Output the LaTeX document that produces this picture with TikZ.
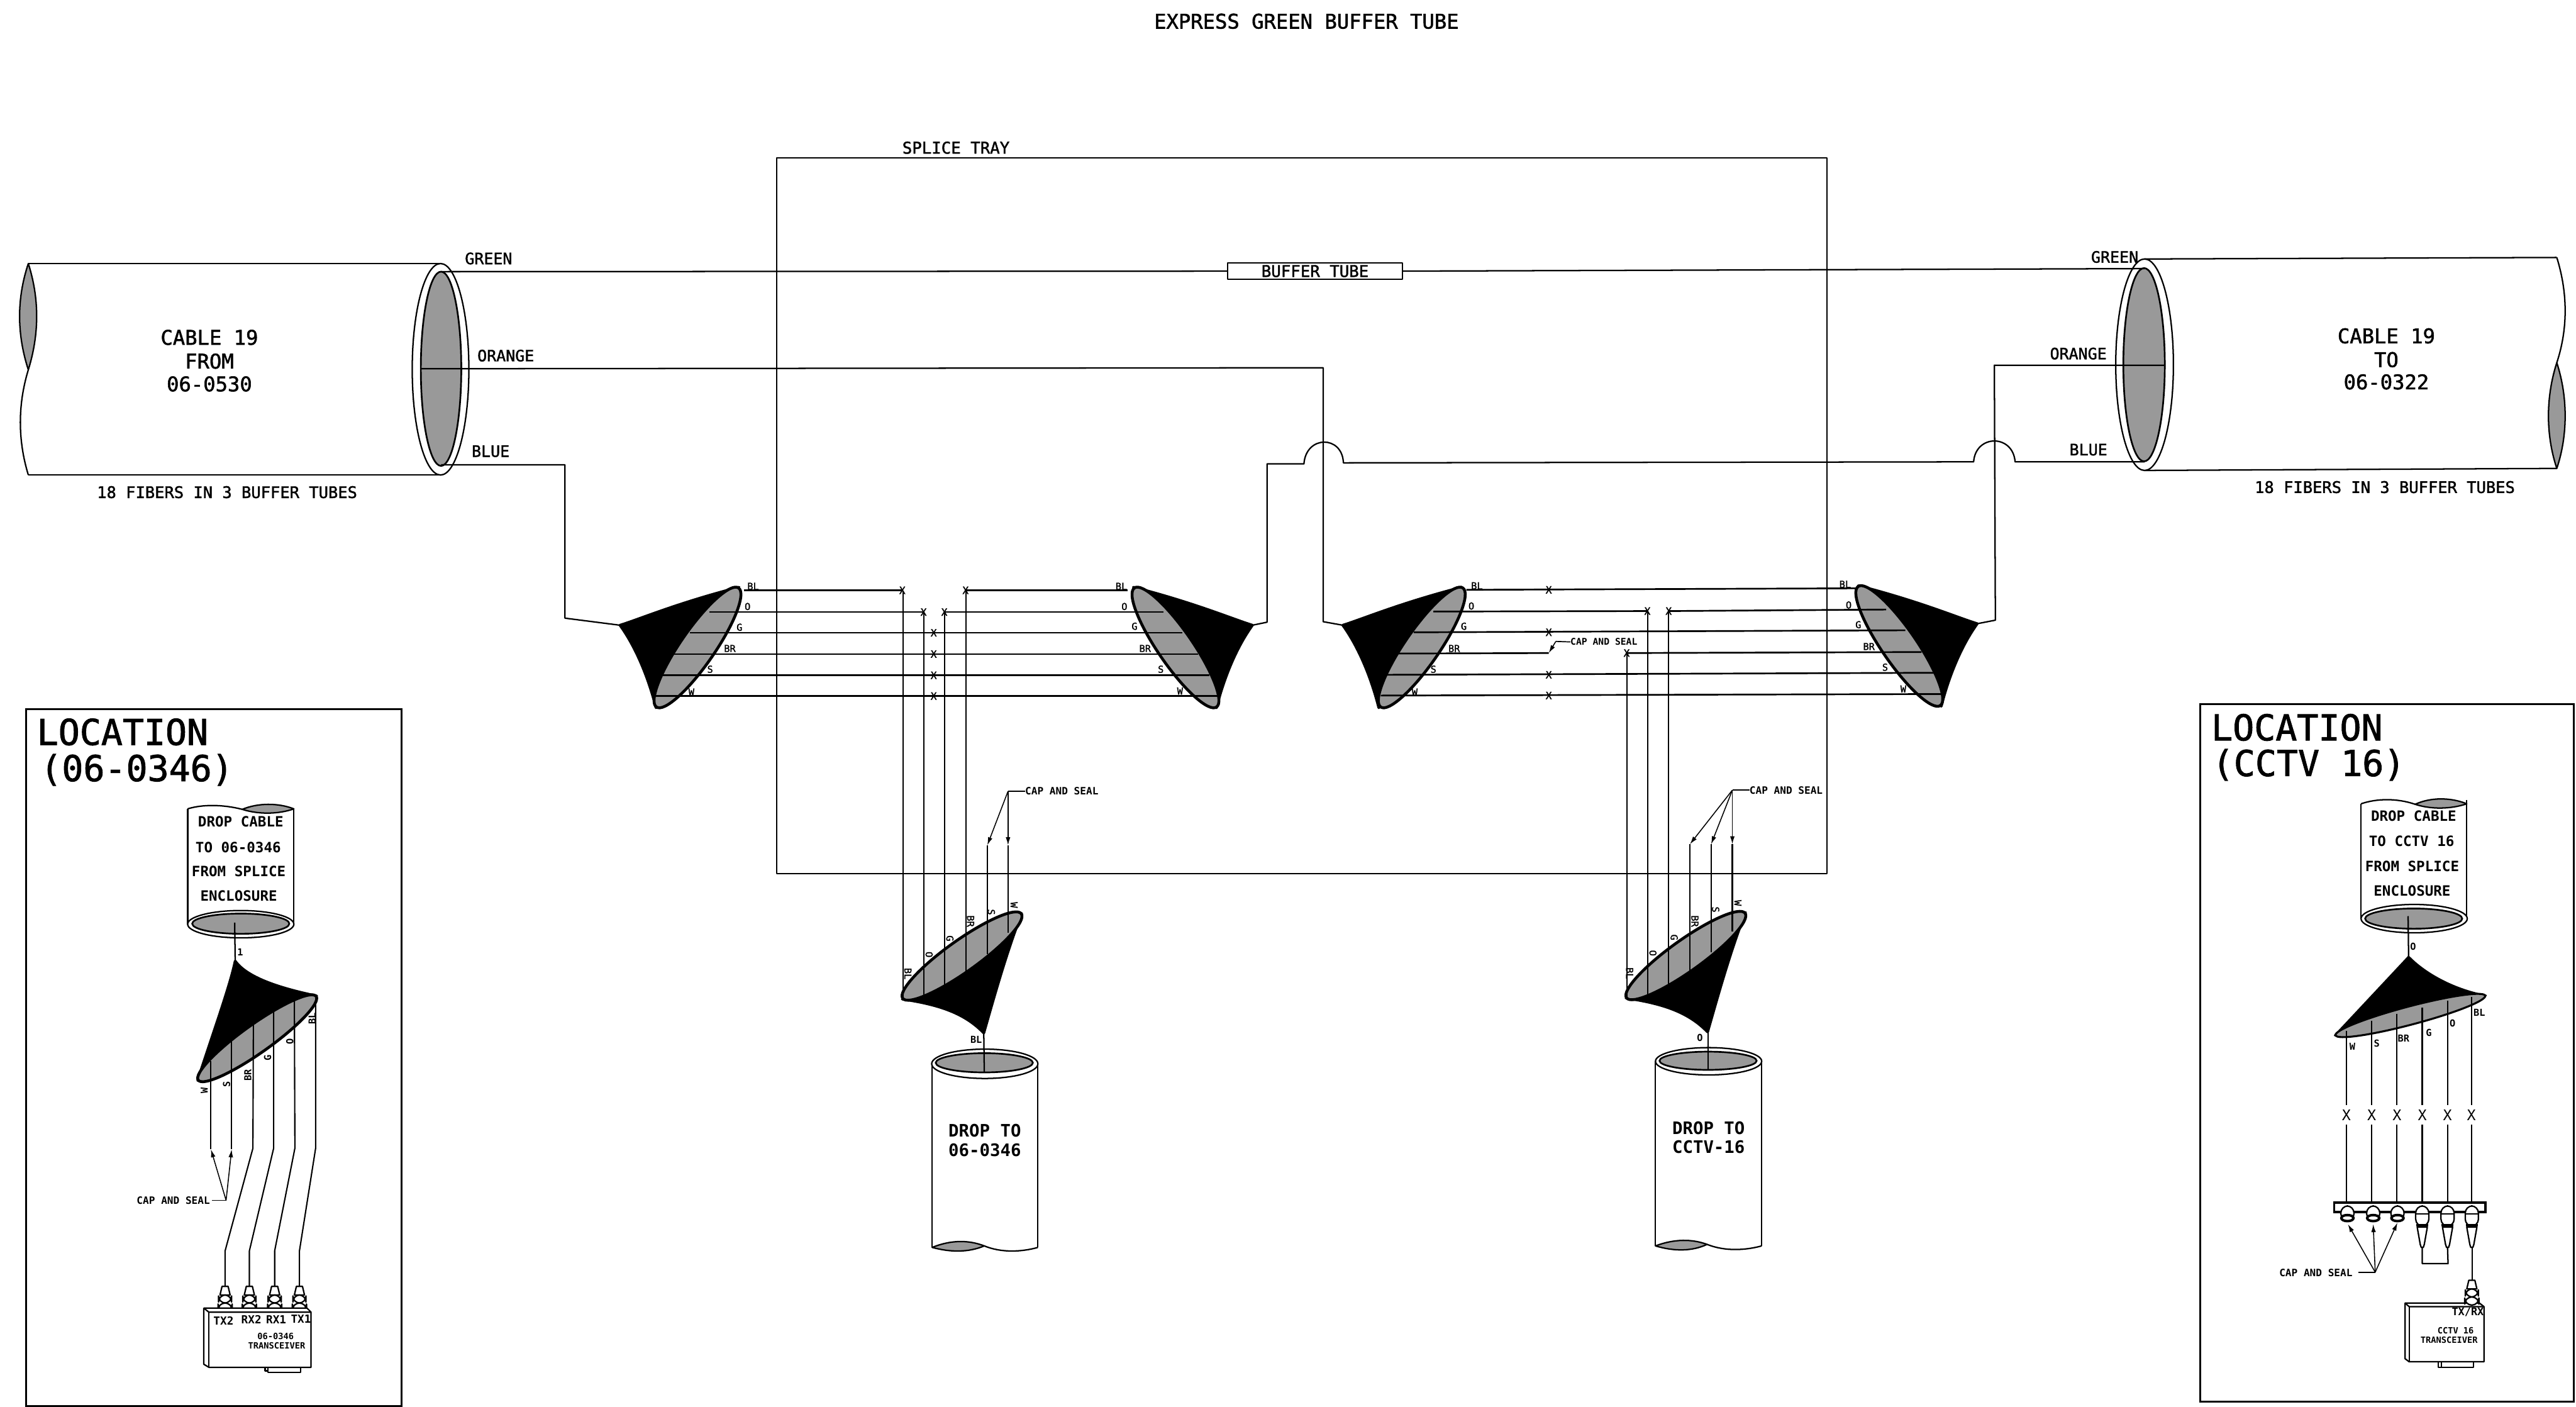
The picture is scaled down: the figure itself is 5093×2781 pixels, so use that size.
\documentclass[tikz,border=0pt]{standalone}
\usepackage{fontspec}
\usetikzlibrary{arrows.meta}
\newfontfamily\mono[FakeBold=1.6]{DejaVu Sans Mono}
\newfontfamily\monob{DejaVu Sans Mono}
\definecolor{stip}{gray}{0.6}
\tikzset{
  x=0.01cm,y=-0.01cm,
  txt/.style={inner sep=0pt,outer sep=0pt,font=\mono\fontsize{#1}{#1}\selectfont},
  btxt/.style={inner sep=0pt,outer sep=0pt,font=\monob\bfseries\fontsize{#1}{#1}\selectfont},
  thinx/.style={inner sep=0pt,outer sep=0pt,font=\monob\fontsize{#1}{#1}\selectfont},
  ln/.style={line width=0.8pt,draw=black,line join=round},
  fine/.style={line width=0.6pt,draw=black,line join=round},
  fiber/.style={line width=0.95pt,draw=black},
  vfiber/.style={line width=0.75pt,draw=black},
  cablefill/.style={draw=black,line width=0.8pt,fill=white},
  corefill/.style={draw=black,line width=0.95pt,fill=stip},
  rim/.style={draw=black,line width=1.6pt,fill=stip,line join=round},
  tipfill/.style={fill=black,draw=black,line width=1.6pt,line join=round},
  callout/.style={line width=0.55pt,-{Latex[length=4.5pt,width=2.6pt]}},
}
\newcommand\sidefunnel[6]{%
  \filldraw[tipfill] (#1,#2)
    .. controls ({#1+#3*39},{#2-12}) and ({#1+#3*114},{#2-44}) .. ({#1+#3*235},{#2-75})
    -- ({#1+#3*71},{#2+163})
    .. controls ({#1+#3*59},{#2+115}) and ({#1+#3*36},{#2+50}) .. cycle;
  \draw[rim,rotate around={#6:(#4,#5)}] (#4,#5) ellipse [x radius=143,y radius=34];
}
\newcommand\dropfunnel[4]{%
  \filldraw[tipfill] (#1,#2)
    .. controls ({#1+66},{#2+10}) and ({#1+121},{#2+25}) .. ({#1+161},{#2+67})
    .. controls ({#1+176},{#2+15}) and ({#1+206},{#2-95}) .. ({#1+236},{#2-169}) -- cycle;
  \draw[rim,rotate around={35.5:(#3,#4)}] (#3,#4) ellipse [x radius=144,y radius=31];
}
\newcommand\fconn[2]{%
  \filldraw[fill=white,ln] ({#1-6},#2) -- ({#1+6},#2) -- ({#1+10},{#2+17}) -- ({#1-10},{#2+17}) -- cycle;
  \filldraw[fill=white,ln,rounded corners=4] ({#1-13},{#2+17}) rectangle ({#1+13},{#2+33});
  \filldraw[fill=white,ln,rounded corners=4] ({#1-14},{#2+33}) rectangle ({#1+14},{#2+49});
}
\newcommand\capend[1]{%
  \filldraw[fill=white,ln,rounded corners=4] ({#1-13},2384) rectangle ({#1+13},2413);
  \filldraw[fill=white,draw=black,line width=1.4pt] (#1,2408) ellipse [x radius=12,y radius=6];
}
\newcommand\plugend[1]{%
  \filldraw[fill=white,ln] ({#1-10},2426) -- ({#1+10},2426) -- ({#1+4},2460) -- ({#1+2},2466) -- ({#1-2},2466) -- ({#1-4},2460) -- cycle;
  \filldraw[fill=white,ln,rounded corners=4] ({#1-13},2384) rectangle ({#1+13},2424);
  \draw[draw=black,line width=1.4pt] ({#1-12},2422) -- ({#1+12},2422);
  \draw[ln] ({#1-12},2400) -- ({#1+12},2400);
}
\begin{document}
\begin{tikzpicture}
\useasboundingbox (0,0) rectangle (5093,2781);
% ---------- title and tray
\node[txt=11.38] (title) at (2583,42) {EXPRESS GREEN BUFFER TUBE};
\draw[fine] (1536,312) rectangle (3612,1727);
\node[txt=9.1,anchor=west] (traylbl) at (1784,292) {SPLICE TRAY};
% ---------- left cable
\draw[ln] (56,521) -- (871,521);
\draw[ln] (56,939) -- (871,939);
\filldraw[fill=stip,ln] (56,521) .. controls (33,590) and (33,660) .. (56,731)
   .. controls (78,660) and (78,590) .. cycle;
\draw[ln] (56,731) .. controls (35,800) and (35,870) .. (56,939);
\draw[cablefill] (871,730) ellipse [x radius=56,y radius=209];
\draw[corefill] (872,729) ellipse [x radius=40,y radius=192];
\node[txt=11.38] (c1a) at (414,667) {CABLE 19};
\node[txt=11.38] (c1b) at (414,714) {FROM};
\node[txt=11.38] (c1c) at (414,759) {06-0530};
\node[txt=9] (c1f) at (449,973) {18 FIBERS IN 3 BUFFER TUBES};
\node[txt=8.82] (c1g) at (966,511) {GREEN};
\node[txt=8.82] (c1o) at (1000,703) {ORANGE};
\node[txt=8.82] (c1l) at (970,892) {BLUE};
% ---------- right cable
\draw[ln] (4240,512) -- (5055,509);
\draw[ln] (4240,930) -- (5055,926);
\draw[ln] (5055,509) .. controls (5077,580) and (5077,650) .. (5055,717);
\filldraw[fill=stip,ln] (5055,717) .. controls (5033,785) and (5033,860) .. (5055,926)
   .. controls (5077,860) and (5077,785) .. cycle;
\draw[cablefill] (4240,721) ellipse [x radius=57,y radius=209];
\draw[corefill] (4239,721) ellipse [x radius=41,y radius=191];
\node[txt=11.38] (c2a) at (4718,664) {CABLE 19};
\node[txt=11.38] (c2b) at (4718,711) {TO};
\node[txt=11.38] (c2c) at (4718,755) {06-0322};
\node[txt=9] (c2f) at (4715,963) {18 FIBERS IN 3 BUFFER TUBES};
\node[txt=8.82] (c2g) at (4181,508) {GREEN};
\node[txt=8.82] (c2o) at (4109,699) {ORANGE};
\node[txt=8.82] (c2l) at (4129,889) {BLUE};
% ---------- buffer tubes
\node[draw,ln,fill=white,txt=9.1,minimum width=3.45cm,minimum height=0.33cm] (buf) at (2600,536) {BUFFER TUBE};
\coordinate (gL) at (872,537);
\coordinate (gR) at (4240,531);
\draw[ln] (gL) -- (buf.west);
\draw[ln] (buf.east) -- (gR);
\coordinate (oL) at (832,729);
\coordinate (oT) at (2616,727);
\coordinate (fT3) at (2655,1236);
\draw[ln] (oL) -- (oT) -- (2616,1229) -- (fT3);
\coordinate (bL) at (872,919);
\coordinate (fT1) at (1226,1236);
\draw[ln] (bL) -- (1117,919) -- (1117,1222) -- (fT1);
\coordinate (fT2) at (2476,1236);
\coordinate (bR) at (4240,913);
\draw[ln] (fT2) -- (2505,1230) -- (2505,917) -- (2578,917)
   .. controls (2582,860) and (2654,860) .. (2656,915) -- (3902,913)
   .. controls (3906,858) and (3980,858) .. (3984,913) -- (bR);
\coordinate (oR) at (4280,722);
\coordinate (fT4) at (3909,1233);
\draw[ln] (oR) -- (3943,722) -- (3945,1226) -- (fT4);
% ---------- side funnels
\sidefunnel{1226}{1236}{1}{1379}{1280}{55.4}
\sidefunnel{2476}{1236}{-1}{2324}{1280}{-55.4}
\sidefunnel{2655}{1236}{1}{2811}{1280}{55.4}
\sidefunnel{3909}{1233}{-1}{3755}{1277}{-55.4}
% ---------- drop funnels
\dropfunnel{1784}{1975}{1902}{1890}
\dropfunnel{3215}{1973}{3333}{1889}
% ---------- fibres, first pair
\foreach \xa/\xb/\yy in {1471/1784/1167,1403/1826/1210,1364/2337/1251,1333/2369/1293,1311/2391/1335,1297/2412/1376,1909/2230/1167,1867/2300/1210}
  \draw[fiber] (\xa,\yy) -- (\xb,\yy);
\foreach \xx/\ya/\yb in {1785/1167/1972,1827/1210/1969,1868/1210/1950,1910/1167/1921,1952/1671/1886,1993/1671/1844}
  \draw[vfiber] (\xx,\ya) -- (\xx,\yb);
\foreach \xx/\yy in {1784/1167,1826/1210,1846/1251,1846/1293,1846/1335,1846/1376,1867/1210,1909/1167}
  \node[txt=5.69] at (\xx,\yy) {X};
% ---------- fibres, second pair
\foreach \xa/\ya/\xb/\yb in {2899/1166/3670/1163,2834/1209/3257/1208,3299/1208/3729/1205,2795/1250/3767/1246,2765/1292/3062/1291,3216/1291/3799/1289,2743/1334/3825/1330,2730/1375/3844/1372}
  \draw[fiber] (\xa,\ya) -- (\xb,\yb);
\foreach \xx/\ya/\yb in {3217/1291/1972,3258/1208/1966,3299/1208/1946,3341/1669/1918,3383/1669/1883,3425/1669/1841}
  \draw[vfiber] (\xx,\ya) -- (\xx,\yb);
\foreach \xx/\yy in {3062/1166,3062/1250,3062/1334,3062/1375,3257/1208,3299/1208,3216/1291}
  \node[txt=5.69] at (\xx,\yy) {X};
% ---------- letter labels on side funnels
\foreach \xx/\yy/\tt in {1489/1159/BL,1478/1199/O,1462/1240/G,1443/1282/BR,1404/1323/S,1367/1368/W,
  2217/1159/BL,2223/1199/O,2243/1238/G,2264/1282/BR,2295/1323/S,2333/1366/W,
  2920/1158/BL,2909/1198/O,2894/1238/G,2875/1282/BR,2834/1323/S,2797/1368/W,
  3648/1155/BL,3655/1196/O,3674/1235/G,3695/1278/BR,3727/1319/S,3763/1362/W}
  \node[txt=5.4] at (\xx,\yy) {\tt};
\foreach \xx/\yy/\tt in {1795/1925/BL,1837/1887/O,1878/1855/G,1919/1821/BR,1960/1803/S,2005/1789/W,
  3222/1924/BL,3268/1884/O,3310/1853/G,3351/1821/BR,3392/1798/S,3436/1785/W}
  \node[txt=5.4,rotate=-90] at (\xx,\yy) {\tt};
% ---------- cap and seal, tray
\node[btxt=5.69,anchor=west] (cs1) at (2027,1564) {CAP AND SEAL};
\coordinate (ap1) at (1993,1564);
\draw[fine] (cs1.west) -- (ap1);
\draw[callout] (ap1) -- (1952,1671);
\draw[callout] (ap1) -- (1993,1671);
\node[btxt=5.69,anchor=west] (cs2) at (3459,1562) {CAP AND SEAL};
\coordinate (ap2) at (3425,1562);
\draw[fine] (cs2.west) -- (ap2);
\draw[callout] (ap2) -- (3341,1669);
\draw[callout] (ap2) -- (3383,1669);
\draw[callout] (ap2) -- (3425,1669);
\node[btxt=5.2,anchor=west] (cs3) at (3105,1269) {CAP AND SEAL};
\coordinate (ap3) at (3076,1268);
\draw[fine] (cs3.west) -- (ap3);
\draw[callout] (ap3) -- (3062,1291);
% ---------- drop cable A
\draw[ln] (1843,2103) -- (1843,2466);
\draw[ln] (2052,2103) -- (2052,2466);
\filldraw[fill=stip,ln] (1843,2466) .. controls (1880,2451) and (1915,2451) .. (1946,2463)
  .. controls (1915,2476) and (1880,2476) .. cycle;
\draw[ln] (1946,2463) .. controls (1980,2477) and (2020,2475) .. (2052,2466);
\draw[cablefill] (1947,2103) ellipse [x radius=105,y radius=29];
\draw[corefill] (1946,2101) ellipse [x radius=96,y radius=19];
\coordinate (dAtip) at (1945,2042);
\coordinate (dAend) at (1946,2119);
\draw[ln] (dAtip) -- (dAend);
\node[btxt=5.4] (dAl) at (1930,2055) {BL};
\node[btxt=9.67] (dA1) at (1947,2235) {DROP TO};
\node[btxt=9.67] (dA2) at (1947,2273) {06-0346};
% ---------- drop cable B
\draw[ln] (3273,2098) -- (3273,2463);
\draw[ln] (3483,2098) -- (3483,2463);
\filldraw[fill=stip,ln] (3273,2463) .. controls (3310,2449) and (3345,2449) .. (3375,2460)
  .. controls (3345,2474) and (3310,2474) .. cycle;
\draw[ln] (3375,2460) .. controls (3410,2474) and (3450,2472) .. (3483,2463);
\draw[cablefill] (3378,2098) ellipse [x radius=105,y radius=27];
\draw[corefill] (3377,2097) ellipse [x radius=96,y radius=18];
\coordinate (dBtip) at (3377,2039);
\coordinate (dBend) at (3377,2115);
\draw[ln] (dBtip) -- (dBend);
\node[btxt=5.4] (dBl) at (3361,2052) {O};
\node[btxt=9.67] (dB1) at (3378,2230) {DROP TO};
\node[btxt=9.67] (dB2) at (3378,2268) {CCTV-16};
% ---------- left location panel
\draw[draw=black,line width=1pt] (52,1402) rectangle (794,2780);
\node[txt=20,anchor=west] (locA1) at (73,1447) {LOCATION};
\node[txt=20,anchor=west] (locA2) at (80,1522) {(06-0346)};
\draw[ln] (371,1599) -- (371,1827);
\draw[ln] (581,1599) -- (581,1827);
\draw[ln] (371,1599) .. controls (400,1590) and (440,1590) .. (479,1600);
\filldraw[fill=stip,ln] (479,1600) .. controls (510,1587) and (550,1587) .. (581,1599)
  .. controls (550,1610) and (510,1610) .. cycle;
\draw[cablefill] (476,1827) ellipse [x radius=105,y radius=27];
\draw[corefill] (476,1826) ellipse [x radius=96,y radius=20];
\node[btxt=7.97] (pA1) at (476,1624) {DROP CABLE};
\node[btxt=7.97] (pA2) at (471,1675) {TO 06-0346};
\node[btxt=7.97] (pA3) at (472,1723) {FROM SPLICE};
\node[btxt=7.97] (pA4) at (472,1771) {ENCLOSURE};
\coordinate (pAtip) at (465,1900);
\draw[ln] (464,1824) -- (pAtip);
\node[btxt=5.4] (pAn) at (475,1882) {1};
\filldraw[tipfill] (pAtip) .. controls (490,1935) and (560,1955) .. (626,1969)
  -- (391,2136) .. controls (415,2060) and (455,1950) .. cycle;
\draw[rim,rotate around={35.4:(508.5,2052.5)}] (508.5,2052.5) ellipse [x radius=143,y radius=28];
\draw[vfiber] (417,2098) -- (417,2272);
\draw[vfiber] (458,2056) -- (458,2272);
\foreach \tx/\ty/\ax/\bx in {501/2018/500/445,541/1994/541/493,582/1976/583/543,624/1978/624/592}
  \draw[vfiber] (\tx,\ty) -- (\ax,2270) -- (\bx,2473) -- (\bx,2543);
\foreach \xx/\yy/\tt in {404/2156/W,448/2144/S,490/2125/BR,529/2091/G,573/2059/O,617/2014/BL}
  \node[btxt=5.4,rotate=90] at (\xx,\yy) {\tt};
\node[btxt=5.69,anchor=east] (cs4) at (415,2373) {CAP AND SEAL};
\coordinate (ap4) at (447,2373);
\draw[fine] (cs4.east) ++(4,0) -- (ap4);
\draw[callout] (ap4) -- (417,2272);
\draw[callout] (ap4) -- (458,2272);
\foreach \xx in {445,493,543,592} { \fconn{\xx}{2543} }
\draw[ln,fill=white] (403,2586) -- (607,2586) -- (615,2594) -- (615,2703) -- (413,2703) -- (403,2697) -- cycle;
\draw[ln] (403,2586) -- (413,2594) -- (615,2594);
\draw[ln] (413,2594) -- (413,2703);
\draw[ln] (524,2703) -- (524,2710) -- (530,2710) -- (530,2703);
\draw[ln] (530,2710) -- (530,2713) -- (594,2713) -- (594,2703);
\foreach \xx/\yy/\tt in {442/2611/TX2,497/2609/RX2,546/2609/RX1,595/2607/TX1}
  \node[btxt=6.26] at (\xx,\yy) {\tt};
\node[btxt=4.84] (trA1) at (545,2642) {06-0346};
\node[btxt=4.84] (trA2) at (547,2660) {TRANSCEIVER};
% ---------- right location panel
\draw[draw=black,line width=1pt] (4350,1392) rectangle (5089,2771);
\node[txt=20,anchor=west] (locB1) at (4372,1438) {LOCATION};
\node[txt=20,anchor=west] (locB2) at (4374,1512) {(CCTV 16)};
\draw[ln] (4668,1589) -- (4668,1816);
\draw[ln] (4877,1581) -- (4877,1816);
\draw[ln] (4668,1589) .. controls (4700,1578) and (4740,1578) .. (4775,1590);
\filldraw[fill=stip,ln] (4775,1590) .. controls (4805,1576) and (4845,1576) .. (4877,1589)
  .. controls (4845,1600) and (4805,1600) .. cycle;
\draw[cablefill] (4773,1816) ellipse [x radius=105,y radius=28];
\draw[corefill] (4772,1816) ellipse [x radius=96,y radius=20];
\node[btxt=7.97] (pB1) at (4772,1613) {DROP CABLE};
\node[btxt=7.97] (pB2) at (4768,1663) {TO CCTV 16};
\node[btxt=7.97] (pB3) at (4769,1712) {FROM SPLICE};
\node[btxt=7.97] (pB4) at (4769,1761) {ENCLOSURE};
\coordinate (pBtip) at (4762,1891);
\draw[ln] (4761,1811) -- (pBtip);
\node[btxt=5.4] (pBn) at (4771,1871) {O};
\filldraw[fill=black,draw=black,line width=1pt,line join=round] (pBtip) .. controls (4800,1930) and (4860,1958) .. (4915,1968)
  -- (4616,2047) .. controls (4660,2000) and (4735,1920) .. cycle;
\draw[fill=stip,draw=black,line width=1.1pt,rotate around={14.8:(4765.5,2007.5)}] (4765.5,2007.5) ellipse [x radius=153,y radius=18];
\foreach \xx/\ya in {4639/2038,4689/2018,4739/2004,4789/1992,4839/1978,4886/1971} {
  \draw[vfiber] (\xx,\ya) -- (\xx,2185);
  \draw[vfiber] (\xx,2223) -- (\xx,2379);
  \node[thinx=8.25] at (\xx,2205) {X};
}
\foreach \xx/\yy/\tt in {4651/2069/W,4699/2063/S,4752/2053/BR,4802/2042/G,4849/2023/O,4902/2002/BL}
  \node[btxt=5.4] at (\xx,\yy) {\tt};
\draw[draw=black,line width=1.3pt,fill=white] (4615,2377) rectangle (4914,2396);
\foreach \xx in {4641,4692,4740} { \capend{\xx} }
\foreach \xx in {4789,4839,4887} { \plugend{\xx} }
\draw[ln] (4789,2466) -- (4789,2498) -- (4840,2498) -- (4839,2466);
\draw[ln] (4888,2466) -- (4888,2531);
\draw[ln,fill=white] (4755,2576) -- (4902,2576) -- (4911,2583) -- (4911,2692) -- (4763,2692) -- (4755,2686) -- cycle;
\draw[ln] (4755,2576) -- (4763,2583) -- (4911,2583);
\draw[ln] (4763,2583) -- (4763,2692);
\draw[ln] (4821,2692) -- (4821,2703) -- (4890,2703) -- (4890,2692);
\draw[ln] (4827,2692) -- (4827,2703);
\fconn{4887}{2531}
\node[btxt=5.97] (txrx) at (4879,2594) {TX/RX};
\node[btxt=4.84] (trB1) at (4855,2631) {CCTV 16};
\node[btxt=4.84] (trB2) at (4842,2649) {TRANSCEIVER};
\node[btxt=5.69,anchor=east] (cs5) at (4651,2516) {CAP AND SEAL};
\coordinate (ap5) at (4696,2515);
\draw[fine] (4663,2515) -- (ap5);
\draw[callout] (ap5) -- (4642,2420);
\draw[callout] (ap5) -- (4692,2420);
\draw[callout] (ap5) -- (4740,2417);
\end{tikzpicture}
\end{document}
